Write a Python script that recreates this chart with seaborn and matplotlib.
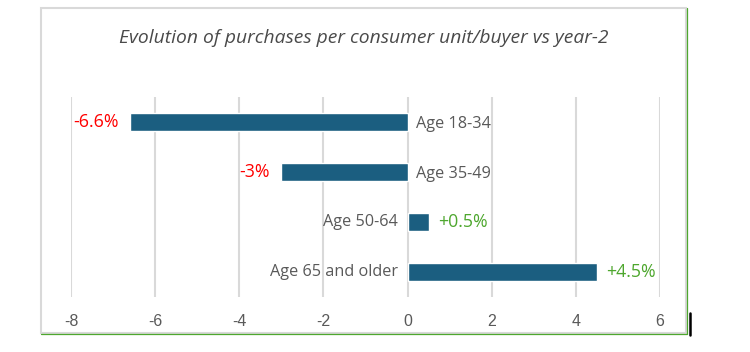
import matplotlib
matplotlib.use("Agg")
import matplotlib.pyplot as plt
import seaborn as sns
import pandas as pd
from matplotlib.patches import Rectangle
from matplotlib.lines import Line2D

categories = ["Age 18-34", "Age 35-49", "Age 50-64", "Age 65 and older"]
values = [-6.6, -3.0, 0.5, 4.5]
value_labels = ["-6.6%", "-3%", "+0.5%", "+4.5%"]
x_ticks = [-8, -6, -4, -2, 0, 2, 4, 6]
title = "Evolution of purchases per consumer unit/buyer vs year-2"

BAR = "#1B5E80"
GRAY_TXT = "#595959"
TITLE_TXT = "#4A4A4A"
RED = "#FF0000"
GREEN = "#4EA72E"
GRID = "#D9D9D9"

sns.set_theme(style="white")
plt.rcParams["font.family"] = ["Open Sans", "DejaVu Sans"]

W, H = 750, 352
fig = plt.figure(figsize=(7.5, 3.52), dpi=100)
ax = fig.add_axes([71 / W, 1 - 297 / H, (660 - 71) / W, (297 - 97) / H])

df = pd.DataFrame({"category": categories, "value": values})
sns.barplot(data=df, x="value", y="category", color=BAR, width=0.35,
            saturation=1, ax=ax, orient="h")

ax.set_xlim(-8, 6)
ax.set_ylim(3.5, -0.5)
ax.set_xticks(x_ticks)
ax.set_xticklabels([str(t) for t in x_ticks], color=GRAY_TXT, fontsize=11.5,
                   family=["Liberation Sans", "DejaVu Sans"])
ax.tick_params(axis="x", length=0, pad=12)
ax.set_yticks([])
ax.set_xlabel("")
ax.set_ylabel("")
for s in ax.spines.values():
    s.set_visible(False)
ax.grid(axis="x", color=GRID, linewidth=1.5)
ax.set_axisbelow(True)

for i, (cat, v, lab) in enumerate(zip(categories, values, value_labels)):
    if v < 0:
        ax.annotate(cat, xy=(0, i), xytext=(6, -1.5), textcoords="offset points",
                    ha="left", va="center", color=GRAY_TXT, fontsize=11.7)
        ax.annotate(lab, xy=(v, i), xytext=(-8, 0), textcoords="offset points",
                    ha="right", va="center", color=RED, fontsize=12.8)
    else:
        ax.annotate(cat, xy=(0, i), xytext=(-7, 0), textcoords="offset points",
                    ha="right", va="center", color=GRAY_TXT, fontsize=11.7)
        ax.annotate(lab, xy=(v, i), xytext=(6.5, 0), textcoords="offset points",
                    ha="left", va="center", color=GREEN, fontsize=12.8)

fig.text(364 / W, 1 - 38 / H, title, ha="center", va="center",
         fontsize=13.9, style="italic", color=TITLE_TXT)

# chart frame
fig.patches.append(Rectangle((41 / W, 1 - 333 / H), (686 - 41) / W, (333 - 8) / H,
                             transform=fig.transFigure, fill=False,
                             edgecolor=GRID, linewidth=1.5))
fig.lines.append(Line2D([687 / W, 687 / W], [1 - 334 / H, 1 - 8 / H],
                        transform=fig.transFigure, color=GREEN, linewidth=0.9))
fig.lines.append(Line2D([41 / W, 687 / W], [1 - 334 / H, 1 - 334 / H],
                        transform=fig.transFigure, color=GREEN, linewidth=0.9))
fig.lines.append(Line2D([689.5 / W, 689.5 / W], [1 - 335 / H, 1 - 313 / H],
                        transform=fig.transFigure, color="black", linewidth=1.8))

fig.savefig("out.png", dpi=100)
